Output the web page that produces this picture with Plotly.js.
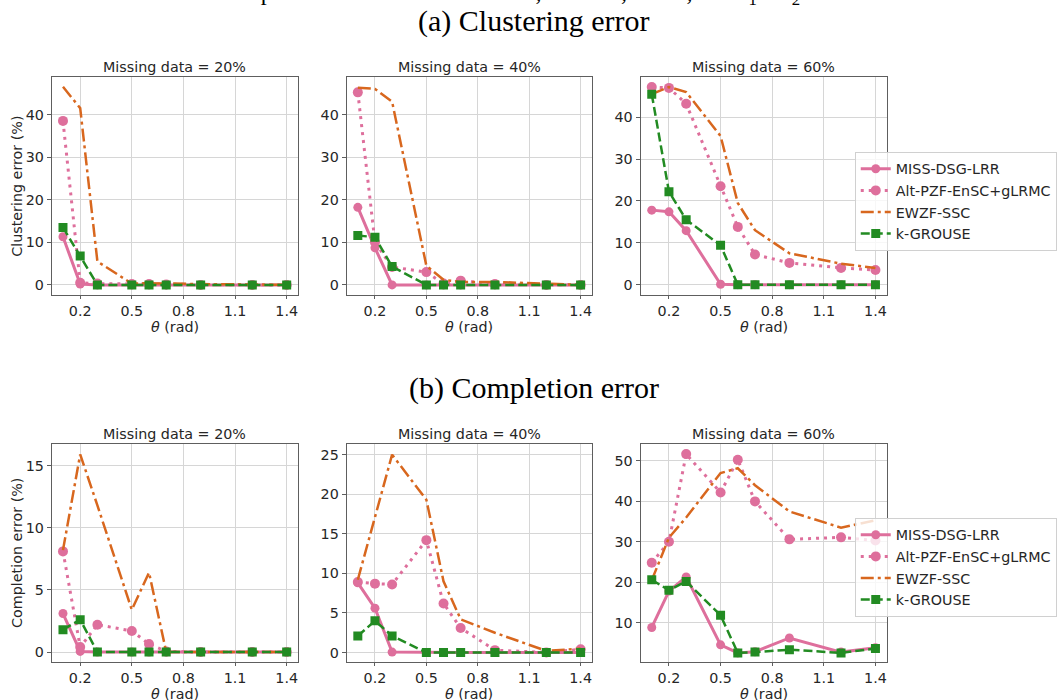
<!DOCTYPE html>
<html>
<head>
<meta charset="utf-8">
<script src="https://cdn.plot.ly/plotly-3.0.1.min.js"></script>
<style>html,body{margin:0;padding:0;background:#fff;}#chart{width:1057px;height:700px;}</style>
</head>
<body>
<div id="chart"></div>
<script>
// ---- data ----
const theta = [0.1, 0.2, 0.3, 0.5, 0.6, 0.7, 0.9, 1.2, 1.4];
const methods = ["MISS-DSG-LRR", "Alt-PZF-EnSC+gLRMC", "EWZF-SSC", "k-GROUSE"];
const missingLabels = ["Missing data = 20%", "Missing data = 40%", "Missing data = 60%"];
const xTicks = [0.2, 0.5, 0.8, 1.1, 1.4];

// (a) clustering error (%)
const clu20_miss  = [11.3, 0.2, 0, 0, 0, 0, 0, 0, 0];
const clu20_alt   = [38.5, 0.5, 0.3, 0.2, 0.2, 0.1, 0, 0, 0];
const clu20_ewzf  = [46.5, 41.5, 5.5, 0.3, 0.4, 0.3, 0.2, 0.1, 0];
const clu20_kgr   = [13.5, 6.8, 0, 0, 0, 0, 0, 0, 0];

const clu40_miss  = [18.2, 8.7, 0, 0, 0, 0, 0, 0, 0];
const clu40_alt   = [45.2, 10.0, 4.2, 3.0, 0.3, 1.0, 0.2, 0, 0];
const clu40_ewzf  = [46.3, 46.0, 43.0, 4.5, 1.2, 0.7, 0.7, 0.2, 0];
const clu40_kgr   = [11.6, 11.2, 4.3, 0, 0, 0, 0, 0, 0];

const clu60_miss  = [17.8, 17.4, 12.9, 0.1, 0, 0, 0, 0, 0];
const clu60_alt   = [47.2, 47.0, 43.2, 23.5, 13.8, 7.2, 5.2, 4.0, 3.5];
const clu60_ewzf  = [45.5, 47.2, 46.0, 35.5, 19.5, 13.0, 7.5, 5.0, 4.0];
const clu60_kgr   = [45.5, 22.2, 15.5, 9.4, 0, 0, 0, 0, 0];

// (b) completion error (%)
const com20_miss  = [3.1, 0.05, 0, 0, 0, 0, 0, 0, 0];
const com20_alt   = [8.1, 0.4, 2.2, 1.7, 0.65, 0.05, 0, 0, 0];
const com20_ewzf  = [8.2, 15.9, 11.8, 3.4, 6.4, 0, 0, 0, 0];
const com20_kgr   = [1.8, 2.6, 0, 0, 0, 0, 0, 0, 0];

const com40_miss  = [8.8, 5.6, 0.05, 0, 0, 0, 0, 0, 0];
const com40_alt   = [8.9, 8.7, 8.6, 14.2, 6.2, 3.1, 0.3, 0, 0.4];
const com40_ewzf  = [9.2, 17.0, 25.0, 19.3, 9.0, 4.2, 2.5, 0.2, 0.5];
const com40_kgr   = [2.1, 4.0, 2.1, 0, 0, 0, 0, 0, 0];

const com60_miss  = [8.8, 17.8, 21.3, 4.5, 2.5, 2.8, 6.2, 2.7, 3.8];
const com60_alt   = [24.8, 30.0, 51.7, 42.2, 50.3, 40.0, 30.6, 31.1, 30.3];
const com60_ewzf  = [20.5, 31.0, 36.0, 47.0, 48.2, 44.0, 37.5, 33.5, 35.3];
const com60_kgr   = [20.6, 18.0, 20.2, 11.8, 2.5, 2.7, 3.3, 2.5, 3.6];

// ---- styling ----
const PINK = '#de6f9c', ORANGE = '#d8671e', GREEN = '#228b22';
const FS = 14.3;
const TXT = '#262626';
const styles = [
  {line: {color: PINK, width: 3, dash: 'solid'}, mode: 'lines+markers', marker: {symbol: 'circle', size: 9, color: PINK}},
  {line: {color: PINK, width: 3, dash: '3px,5px'}, mode: 'lines+markers', marker: {symbol: 'circle', size: 10, color: PINK}},
  {line: {color: ORANGE, width: 2.5, dash: '13px,4px,3px,4px'}, mode: 'lines'},
  {line: {color: GREEN, width: 2.5, dash: '9px,4px'}, mode: 'lines+markers', marker: {symbol: 'square', size: 9, color: GREEN}}
];

const panels = [
  {series: [clu20_miss, clu20_alt, clu20_ewzf, clu20_kgr], yr: [-2.3, 48.8], dt: 10, t0: 0},
  {series: [clu40_miss, clu40_alt, clu40_ewzf, clu40_kgr], yr: [-2.3, 48.8], dt: 10, t0: 0},
  {series: [clu60_miss, clu60_alt, clu60_ewzf, clu60_kgr], yr: [-2.4, 49.6], dt: 10, t0: 0},
  {series: [com20_miss, com20_alt, com20_ewzf, com20_kgr], yr: [-0.8, 16.74], dt: 5, t0: 0},
  {series: [com40_miss, com40_alt, com40_ewzf, com40_kgr], yr: [-1.2, 26.35], dt: 5, t0: 0},
  {series: [com60_miss, com60_alt, com60_ewzf, com60_kgr], yr: [0.25, 54.2], dt: 10, t0: 10}
];

const W = 1057, H = 700;
const colsPx = [[52, 299], [348, 594], [643, 890]];
const rowsPx = [[77, 294.7], [444, 662]];

const traces = [];
const legendBase = {
  xanchor: 'left', yanchor: 'top',
  bgcolor: 'rgba(255,255,255,0.8)', bordercolor: '#d0d0d0', borderwidth: 1,
  font: {family: 'DejaVu Sans', size: FS, color: TXT}, tracegroupgap: 0
};
const layout = {
  width: W, height: H,
  margin: {l: 0, r: 0, t: 0, b: 0},
  paper_bgcolor: '#ffffff', plot_bgcolor: '#ffffff',
  font: {family: 'DejaVu Sans', size: FS, color: TXT},
  annotations: [],
  legend: Object.assign({x: 858 / W, y: 1 - 152 / H}, legendBase),
  legend2: Object.assign({x: 858 / W, y: 1 - 518 / H}, legendBase)
};

panels.forEach((p, i) => {
  const r = Math.floor(i / 3), c = i % 3;
  const idx = i + 1;
  const xk = idx === 1 ? 'x' : 'x' + idx;
  const yk = idx === 1 ? 'y' : 'y' + idx;
  const xa = idx === 1 ? 'xaxis' : 'xaxis' + idx;
  const ya = idx === 1 ? 'yaxis' : 'yaxis' + idx;
  const xd = [colsPx[c][0] / W, colsPx[c][1] / W];
  const yd = [1 - rowsPx[r][1] / H, 1 - rowsPx[r][0] / H];
  layout[xa] = {
    domain: xd, anchor: yk, range: [0.035, 1.465],
    tickmode: 'array', tickvals: xTicks, ticktext: xTicks.map(v => v.toFixed(1)),
    showgrid: true, gridcolor: '#d6d6d6', gridwidth: 1,
    showline: true, linecolor: '#5e5e5e', linewidth: 1, mirror: true,
    ticks: 'outside', ticklen: 3, tickcolor: '#5e5e5e',
    zeroline: false, tickfont: {size: FS, color: TXT}
  };
  layout[ya] = {
    domain: yd, anchor: xk, range: p.yr,
    tick0: p.t0, dtick: p.dt,
    showgrid: true, gridcolor: '#d6d6d6', gridwidth: 1,
    showline: true, linecolor: '#5e5e5e', linewidth: 1, mirror: true,
    ticks: 'outside', ticklen: 4, tickcolor: '#5e5e5e',
    zeroline: false, tickfont: {size: FS, color: TXT}
  };
  p.series.forEach((ys, k) => {
    const s = styles[k];
    const t = {
      type: 'scatter', x: theta, y: ys, name: methods[k], xaxis: xk, yaxis: yk,
      mode: s.mode, line: s.line, hoverinfo: 'x+y+name',
      showlegend: c === 2, legend: r === 0 ? 'legend' : 'legend2'
    };
    if (s.marker) t.marker = s.marker;
    traces.push(t);
  });
  // subplot title
  layout.annotations.push({
    text: missingLabels[c], xref: 'paper', yref: 'paper',
    x: (xd[0] + xd[1]) / 2, y: 1 - (rowsPx[r][0] - 10) / H,
    xanchor: 'center', yanchor: 'middle', showarrow: false,
    font: {family: 'DejaVu Sans', size: FS, color: TXT}
  });
  // x-axis title
  layout.annotations.push({
    text: '<i>θ</i> (rad)', xref: 'paper', yref: 'paper',
    x: (xd[0] + xd[1]) / 2, y: 1 - (rowsPx[r][1] + 32) / H,
    xanchor: 'center', yanchor: 'middle', showarrow: false,
    font: {family: 'DejaVu Sans', size: FS, color: TXT}
  });
});

// y-axis titles
[['Clustering error (%)', 0], ['Completion error (%)', 1]].forEach(([txt, r]) => {
  layout.annotations.push({
    text: txt, xref: 'paper', yref: 'paper', textangle: -90,
    x: 17 / W, y: 1 - ((rowsPx[r][0] + rowsPx[r][1]) / 2) / H,
    xanchor: 'center', yanchor: 'middle', showarrow: false,
    font: {family: 'DejaVu Sans', size: FS, color: TXT}
  });
});

// figure headings
layout.annotations.push({
  text: 'subspaces. Parameters are <i>d</i> = 10, <i>n</i> = 100, <i>K</i> = 2, and <i>r</i><sub>1</sub> = <i>r</i><sub>2</sub> = 2',
  xref: 'paper', yref: 'paper', x: 530 / W, y: 1 + 6 / H, xanchor: 'center', yanchor: 'middle',
  showarrow: false, font: {family: 'Liberation Serif', size: 24, color: '#000'}
});
layout.annotations.push({
  text: '(a) Clustering error', xref: 'paper', yref: 'paper',
  x: 536 / W, y: 1 - 21 / H, xanchor: 'center', yanchor: 'middle',
  showarrow: false, font: {family: 'Liberation Serif', size: 30, color: '#000'}
});
layout.annotations.push({
  text: '(b) Completion error', xref: 'paper', yref: 'paper',
  x: 536 / W, y: 1 - 388 / H, xanchor: 'center', yanchor: 'middle',
  showarrow: false, font: {family: 'Liberation Serif', size: 30, color: '#000'}
});

Plotly.newPlot('chart', traces, layout, {displayModeBar: false, staticPlot: true});
</script>
</body>
</html>
